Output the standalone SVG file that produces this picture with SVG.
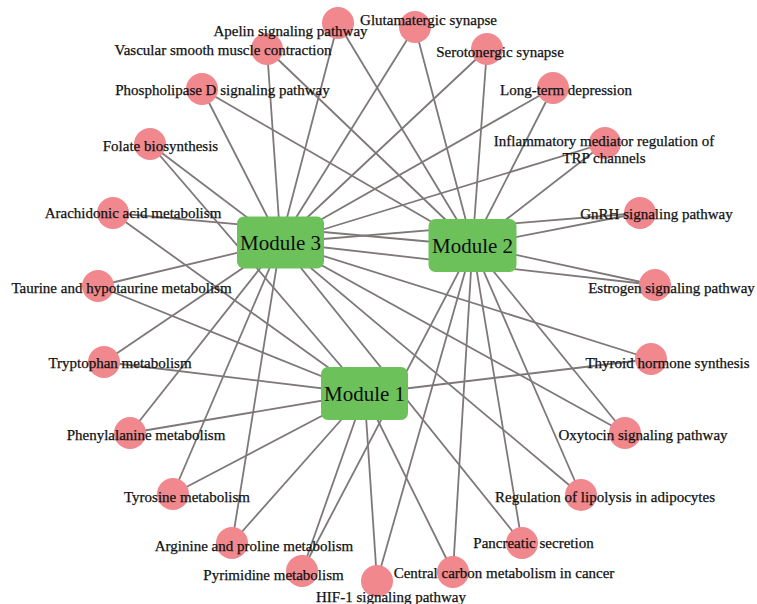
<svg xmlns="http://www.w3.org/2000/svg" width="757" height="604" viewBox="0 0 757 604">
<style>
.bg{fill:#ffffff}
.e{stroke:#7f7878;stroke-width:1.8;fill:none}
.p{fill:#f0888d}
.m{fill:#6cc15b}
.t{font-family:"Liberation Serif","Times New Roman",serif;font-size:15px;fill:#111111;text-anchor:middle;stroke:#111111;stroke-width:0.25}
.mt{font-family:"Liberation Serif","Times New Roman",serif;font-size:21px;fill:#0d0d0d;text-anchor:middle}
</style>
<rect class="bg" x="0" y="0" width="757" height="604"/>
<g id="connectors">
<line class="e" x1="338" y1="23" x2="280.5" y2="242.5"/>
<line class="e" x1="267" y1="49" x2="280.5" y2="242.5"/>
<line class="e" x1="415" y1="27" x2="280.5" y2="242.5"/>
<line class="e" x1="487" y1="49" x2="280.5" y2="242.5"/>
<line class="e" x1="202" y1="89" x2="280.5" y2="242.5"/>
<line class="e" x1="553" y1="88" x2="280.5" y2="242.5"/>
<line class="e" x1="605" y1="143" x2="280.5" y2="242.5"/>
<line class="e" x1="640" y1="213" x2="280.5" y2="242.5"/>
<line class="e" x1="655" y1="285" x2="280.5" y2="242.5"/>
<line class="e" x1="651" y1="359" x2="280.5" y2="242.5"/>
<line class="e" x1="625" y1="433" x2="280.5" y2="242.5"/>
<line class="e" x1="581" y1="495" x2="280.5" y2="242.5"/>
<line class="e" x1="522" y1="543" x2="280.5" y2="242.5"/>
<line class="e" x1="150" y1="144" x2="280.5" y2="242.5"/>
<line class="e" x1="98" y1="286" x2="280.5" y2="242.5"/>
<line class="e" x1="104" y1="362" x2="280.5" y2="242.5"/>
<line class="e" x1="130" y1="433" x2="280.5" y2="242.5"/>
<line class="e" x1="173" y1="494" x2="280.5" y2="242.5"/>
<line class="e" x1="232" y1="543" x2="280.5" y2="242.5"/>
<line class="e" x1="338" y1="23" x2="472.5" y2="245.5"/>
<line class="e" x1="267" y1="49" x2="472.5" y2="245.5"/>
<line class="e" x1="415" y1="27" x2="472.5" y2="245.5"/>
<line class="e" x1="487" y1="49" x2="472.5" y2="245.5"/>
<line class="e" x1="202" y1="89" x2="472.5" y2="245.5"/>
<line class="e" x1="553" y1="88" x2="472.5" y2="245.5"/>
<line class="e" x1="605" y1="143" x2="472.5" y2="245.5"/>
<line class="e" x1="640" y1="213" x2="472.5" y2="245.5"/>
<line class="e" x1="655" y1="285" x2="472.5" y2="245.5"/>
<line class="e" x1="625" y1="433" x2="472.5" y2="245.5"/>
<line class="e" x1="581" y1="495" x2="472.5" y2="245.5"/>
<line class="e" x1="522" y1="543" x2="472.5" y2="245.5"/>
<line class="e" x1="453" y1="572" x2="472.5" y2="245.5"/>
<line class="e" x1="377" y1="581" x2="472.5" y2="245.5"/>
<line class="e" x1="302" y1="571" x2="472.5" y2="245.5"/>
<line class="e" x1="113" y1="213" x2="472.5" y2="245.5"/>
<line class="e" x1="651" y1="359" x2="364.5" y2="393.5"/>
<line class="e" x1="150" y1="144" x2="364.5" y2="393.5"/>
<line class="e" x1="113" y1="213" x2="364.5" y2="393.5"/>
<line class="e" x1="98" y1="286" x2="364.5" y2="393.5"/>
<line class="e" x1="104" y1="362" x2="364.5" y2="393.5"/>
<line class="e" x1="130" y1="433" x2="364.5" y2="393.5"/>
<line class="e" x1="173" y1="494" x2="364.5" y2="393.5"/>
<line class="e" x1="232" y1="543" x2="364.5" y2="393.5"/>
<line class="e" x1="453" y1="572" x2="364.5" y2="393.5"/>
<line class="e" x1="377" y1="581" x2="364.5" y2="393.5"/>
<line class="e" x1="302" y1="571" x2="364.5" y2="393.5"/>
</g>
<g id="module3"><rect class="m" x="237" y="216.5" width="87" height="52" rx="7"/><text class="mt" x="280.5" y="250">Module 3</text></g>
<g id="module2"><rect class="m" x="428.5" y="219" width="88" height="53" rx="7"/><text class="mt" x="472.5" y="252.5">Module 2</text></g>
<g id="module1"><rect class="m" x="321" y="367" width="87" height="53" rx="7"/><text class="mt" x="364.5" y="400.5">Module 1</text></g>
<g id="n-apelin"><circle class="p" cx="338" cy="23" r="16"/></g>
<g id="n-glutamatergic"><circle class="p" cx="415" cy="27" r="16"/></g>
<g id="n-vascular"><circle class="p" cx="267" cy="49" r="16"/></g>
<g id="n-serotonergic"><circle class="p" cx="487" cy="49" r="16"/></g>
<g id="n-phospholipase"><circle class="p" cx="202" cy="89" r="16"/></g>
<g id="n-longterm"><circle class="p" cx="553" cy="88" r="16"/></g>
<g id="n-folate"><circle class="p" cx="150" cy="144" r="16"/></g>
<g id="n-inflammatory"><circle class="p" cx="605" cy="143" r="16"/></g>
<g id="n-arachidonic"><circle class="p" cx="113" cy="213" r="16"/></g>
<g id="n-gnrh"><circle class="p" cx="640" cy="213" r="16"/></g>
<g id="n-taurine"><circle class="p" cx="98" cy="286" r="16"/></g>
<g id="n-estrogen"><circle class="p" cx="655" cy="285" r="16"/></g>
<g id="n-tryptophan"><circle class="p" cx="104" cy="362" r="16"/></g>
<g id="n-thyroid"><circle class="p" cx="651" cy="359" r="16"/></g>
<g id="n-phenylalanine"><circle class="p" cx="130" cy="433" r="16"/></g>
<g id="n-oxytocin"><circle class="p" cx="625" cy="433" r="16"/></g>
<g id="n-tyrosine"><circle class="p" cx="173" cy="494" r="16"/></g>
<g id="n-lipolysis"><circle class="p" cx="581" cy="495" r="16"/></g>
<g id="n-arginine"><circle class="p" cx="232" cy="543" r="16"/></g>
<g id="n-pancreatic"><circle class="p" cx="522" cy="543" r="16"/></g>
<g id="n-pyrimidine"><circle class="p" cx="302" cy="571" r="16"/></g>
<g id="n-central"><circle class="p" cx="453" cy="572" r="16"/></g>
<g id="n-hif1"><circle class="p" cx="377" cy="581" r="16"/></g>
<g id="labels">
<text class="t" x="290.5" y="36">Apelin signaling pathway</text>
<text class="t" x="428.5" y="25">Glutamatergic synapse</text>
<text class="t" x="223" y="55">Vascular smooth muscle contraction</text>
<text class="t" x="500" y="57">Serotonergic synapse</text>
<text class="t" x="222.5" y="95">Phospholipase D signaling pathway</text>
<text class="t" x="566" y="95">Long-term depression</text>
<text class="t" x="160.5" y="151">Folate biosynthesis</text>
<text class="t" x="604" y="146">Inflammatory mediator regulation of</text>
<text class="t" x="604" y="163">TRP channels</text>
<text class="t" x="133" y="218">Arachidonic acid metabolism</text>
<text class="t" x="656.5" y="219">GnRH signaling pathway</text>
<text class="t" x="121.5" y="293">Taurine and hypotaurine metabolism</text>
<text class="t" x="671.5" y="293">Estrogen signaling pathway</text>
<text class="t" x="120" y="368">Tryptophan metabolism</text>
<text class="t" x="667.5" y="368">Thyroid hormone synthesis</text>
<text class="t" x="146" y="440">Phenylalanine metabolism</text>
<text class="t" x="643" y="440">Oxytocin signaling pathway</text>
<text class="t" x="187" y="502">Tyrosine metabolism</text>
<text class="t" x="605" y="502">Regulation of lipolysis in adipocytes</text>
<text class="t" x="254" y="551">Arginine and proline metabolism</text>
<text class="t" x="533.5" y="548">Pancreatic secretion</text>
<text class="t" x="273.5" y="580">Pyrimidine metabolism</text>
<text class="t" x="504" y="578">Central carbon metabolism in cancer</text>
<text class="t" x="391" y="602">HIF-1 signaling pathway</text>
</g>
</svg>
